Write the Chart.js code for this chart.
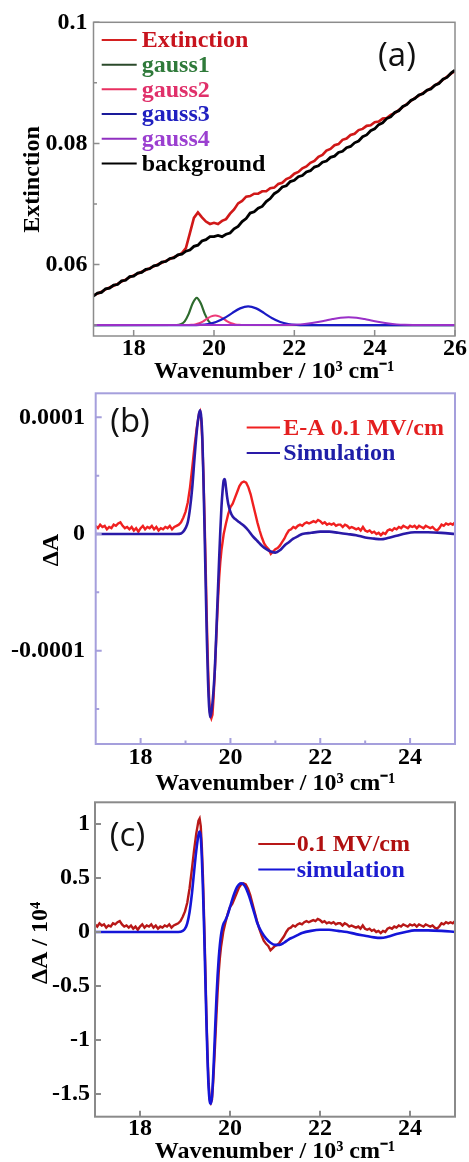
<!DOCTYPE html>
<html><head><meta charset="utf-8">
<script src="https://cdn.jsdelivr.net/npm/chart.js@4.4.0/dist/chart.umd.min.js"></script>
<style>
html,body{margin:0;padding:0;background:#fff;width:469px;height:1162px;overflow:hidden}
canvas{position:absolute;left:0}
</style></head>
<body>
<canvas id="ca" width="469" height="390" style="top:0px"></canvas>
<canvas id="cb" width="469" height="415" style="top:385px"></canvas>
<canvas id="cc" width="469" height="362" style="top:800px"></canvas>
<script>
// ---------- Panel (a) data ----------
const wnA = [17.0,17.1,17.2,17.3,17.4,17.5,17.6,17.7,17.8,17.9,
 18.0,18.1,18.2,18.3,18.4,18.5,18.6,18.7,18.8,18.9,
 19.0,19.1,19.2,19.3,19.4,19.5,19.6,19.7,19.8,19.9,
 20.0,20.1,20.2,20.3,20.4,20.5,20.6,20.7,20.8,20.9,
 21.0,21.1,21.2,21.3,21.4,21.5,21.6,21.7,21.8,21.9,
 22.0,22.1,22.2,22.3,22.4,22.5,22.6,22.7,22.8,22.9,
 23.0,23.1,23.2,23.3,23.4,23.5,23.6,23.7,23.8,23.9,
 24.0,24.1,24.2,24.3,24.4,24.5,24.6,24.7,24.8,24.9,
 25.0,25.1,25.2,25.3,25.4,25.5,25.6,25.7,25.8,25.9,26.0];
const background = [0.0548,0.0553,0.0554,0.0560,0.0561,0.0566,0.0567,0.0573,0.0574,0.0580,
 0.0581,0.0586,0.0587,0.0592,0.0593,0.0598,0.0599,0.0604,0.0605,0.0610,
 0.0611,0.0616,0.0617,0.0622,0.0624,0.0630,0.0632,0.0639,0.0641,0.0646,
 0.0646,0.0648,0.0646,0.0650,0.0652,0.0659,0.0663,0.0671,0.0676,0.0685,
 0.0687,0.0693,0.0696,0.0704,0.0709,0.0717,0.0721,0.0728,0.0730,0.0737,
 0.0739,0.0745,0.0747,0.0753,0.0755,0.0761,0.0763,0.0769,0.0771,0.0777,
 0.0779,0.0785,0.0787,0.0793,0.0795,0.0801,0.0804,0.0811,0.0814,0.0821,
 0.0824,0.0831,0.0834,0.0841,0.0844,0.0851,0.0854,0.0861,0.0864,0.0871,
 0.0874,0.0880,0.0882,0.0888,0.0890,0.0896,0.0899,0.0906,0.0909,0.0916,0.0921];
const extinction = [0.0549,0.0552,0.0555,0.0559,0.0562,0.0565,0.0568,0.0572,0.0575,0.0579,
 0.0582,0.0585,0.0588,0.0591,0.0594,0.0597,0.0600,0.0603,0.0606,0.0609,
 0.0612,0.0615,0.0619,0.0627,0.0652,0.0677,0.0686,0.0678,0.0671,0.0667,
 0.0669,0.0667,0.0672,0.0675,0.0684,0.0691,0.0701,0.0705,0.0712,0.0713,
 0.0717,0.0717,0.0721,0.0721,0.0726,0.0727,0.0733,0.0735,0.0741,0.0744,
 0.0750,0.0753,0.0759,0.0762,0.0768,0.0771,0.0778,0.0781,0.0788,0.0791,
 0.0797,0.0799,0.0806,0.0808,0.0814,0.0816,0.0822,0.0824,0.0829,0.0830,
 0.0835,0.0836,0.0841,0.0842,0.0847,0.0850,0.0855,0.0860,0.0865,0.0870,
 0.0875,0.0879,0.0883,0.0887,0.0891,0.0896,0.0900,0.0905,0.0910,0.0915,0.0920];
const gauss1X = [17.0,19.07,19.17,19.27,19.37,19.47,19.57,19.67,19.77,19.87,19.97,20.07,26.0];
const gauss1Y = [0.05,0.05002,0.05013,0.05061,0.05185,0.0536,0.0545,0.0536,0.05185,0.05061,0.05013,0.05002,0.05];
const gauss2X = [17.0,19.33,19.43,19.53,19.63,19.73,19.83,19.93,20.03,20.13,20.23,20.33,20.43,20.53,20.63,20.73,26.0];
const gauss2Y = [0.05,0.05001,0.05004,0.05012,0.05030,0.05062,0.05106,0.05144,0.0516,0.05144,0.05106,0.05062,0.05030,0.05012,0.05004,0.05001,0.05];
const gauss3X = [17.0,19.45,19.65,19.85,20.05,20.25,20.45,20.65,20.85,21.05,21.25,21.45,21.65,21.85,22.05,22.25,26.0];
const gauss3Y = [0.05,0.05001,0.05005,0.05018,0.05050,0.05112,0.05198,0.05276,0.0531,0.05276,0.05198,0.05112,0.05050,0.05018,0.05005,0.05001,0.05];
const gauss4X = [17.0,21.55,21.75,21.95,22.15,22.35,22.55,22.75,22.95,23.15,23.35,23.55,23.75,23.95,24.15,24.35,24.55,24.75,24.95,25.15,26.0];
const gauss4Y = [0.05,0.05001,0.05002,0.05005,0.05012,0.05025,0.05046,0.05072,0.05100,0.05122,0.0513,0.05122,0.05100,0.05072,0.05046,0.05025,0.05012,0.05005,0.05002,0.05001,0.05];
const xTicksA = [18,20,22,24,26];
const yTicksA = [0.06,0.08,0.1];
const yTickLabelsA = ['0.06','0.08','0.1'];

// ---------- Panels (b) and (c) data (signal in units of 1e-4) ----------
const wnEA = [17.00,17.05,17.10,17.15,17.20,17.25,17.30,17.35,17.40,17.45,
 17.50,17.55,17.60,17.65,17.70,17.75,17.80,17.85,17.90,17.95,
 18.00,18.05,18.10,18.15,18.20,18.25,18.30,18.35,18.40,18.45,
 18.50,18.55,18.60,18.65,18.70,18.75,18.80,18.85,18.90,18.95,
 19.00,19.05,19.10,19.15,19.20,19.25,19.30,19.325,19.35,19.375,
 19.40,19.425,19.45,19.475,19.50,19.525,19.55,19.575,19.60,19.625,
 19.65,19.675,19.70,19.725,19.75,19.775,19.80,19.85,19.90,19.95,
 20.00,20.05,20.10,20.15,20.20,20.25,20.30,20.35,20.40,20.45,
 20.50,20.55,20.60,20.65,20.70,20.75,20.80,20.85,20.90,20.95,
 21.00,21.05,21.10,21.15,21.20,21.25,21.30,21.35,21.40,21.45,
 21.50,21.55,21.60,21.65,21.70,21.75,21.80,21.85,21.90,21.95,
 22.00,22.05,22.10,22.15,22.20,22.25,22.30,22.35,22.40,22.45,
 22.50,22.55,22.60,22.65,22.70,22.75,22.80,22.85,22.90,22.95,
 23.00,23.05,23.10,23.15,23.20,23.25,23.30,23.35,23.40,23.45,
 23.50,23.55,23.60,23.65,23.70,23.75,23.80,23.85,23.90,23.95,
 24.00,24.05,24.10,24.15,24.20,24.25,24.30,24.35,24.40,24.45,
 24.50,24.55,24.60,24.65,24.70,24.75,24.80,24.85,24.90,24.95,25.00];
const eaSignal = [0.07,0.05,0.08,0.06,0.07,0.04,0.06,0.05,0.08,0.07,
 0.09,0.10,0.07,0.05,0.06,0.04,0.06,0.03,0.05,0.02,
 0.05,0.07,0.04,0.06,0.05,0.07,0.04,0.06,0.03,0.05,
 0.04,0.06,0.05,0.07,0.04,0.06,0.07,0.08,0.10,0.14,
 0.19,0.27,0.40,0.57,0.75,0.91,1.03,1.05,0.98,0.78,
 0.50,0.12,-0.30,-0.75,-1.12,-1.40,-1.55,-1.58,-1.55,-1.40,
 -1.20,-0.98,-0.76,-0.55,-0.37,-0.24,-0.14,0.00,0.09,0.17,
 0.23,0.26,0.31,0.36,0.41,0.44,0.45,0.44,0.40,0.34,
 0.26,0.18,0.10,0.03,-0.03,-0.08,-0.11,-0.13,-0.17,-0.15,
 -0.13,-0.12,-0.10,-0.07,-0.04,0.00,0.03,0.04,0.06,0.05,
 0.07,0.08,0.07,0.09,0.10,0.09,0.10,0.11,0.10,0.12,
 0.11,0.09,0.10,0.08,0.09,0.08,0.09,0.07,0.08,0.08,
 0.06,0.08,0.07,0.05,0.06,0.05,0.04,0.05,0.03,0.06,
 0.03,0.02,0.03,0.01,0.02,0.00,0.01,-0.01,0.01,0.00,
 0.03,0.04,0.03,0.05,0.04,0.06,0.05,0.07,0.06,0.05,
 0.07,0.06,0.07,0.05,0.07,0.06,0.05,0.07,0.06,0.05,
 0.06,0.04,0.03,0.05,0.08,0.07,0.09,0.08,0.09,0.08,0.10];
const wnSimB = [17.0,18.8,18.9,18.95,19.0,19.05,19.10,19.15,19.20,19.25,19.30,19.325,19.35,19.375,
 19.40,19.425,19.45,19.475,19.50,19.525,19.55,19.575,19.60,19.625,19.65,19.675,19.70,19.725,19.75,19.775,
 19.80,19.825,19.85,19.875,19.90,19.925,19.95,20.00,20.05,20.10,20.20,20.30,20.40,20.50,20.60,20.70,
 20.80,20.90,21.00,21.10,21.20,21.30,21.40,21.50,21.60,21.80,22.00,22.20,22.40,22.60,22.80,23.00,
 23.20,23.35,23.50,23.70,23.90,24.10,24.40,24.70,25.00];
const simB = [0,0,0.005,0.02,0.05,0.10,0.22,0.40,0.65,0.88,1.03,1.06,1.00,0.82,
 0.45,0.02,-0.45,-0.90,-1.25,-1.48,-1.57,-1.53,-1.45,-1.33,-1.18,-0.95,-0.70,-0.45,-0.20,0.03,
 0.23,0.37,0.46,0.47,0.40,0.32,0.26,0.19,0.15,0.13,0.10,0.07,0.03,-0.02,-0.06,-0.10,
 -0.13,-0.15,-0.16,-0.14,-0.10,-0.07,-0.04,-0.02,0.00,0.01,0.02,0.02,0.01,0.00,-0.01,-0.03,
 -0.04,-0.045,-0.035,-0.015,0.005,0.015,0.015,0.01,0.00];
const wnSimC = [17.0,18.85,18.95,19.0,19.05,19.10,19.15,19.20,19.25,19.30,19.325,19.35,19.375,19.40,
 19.425,19.45,19.475,19.50,19.525,19.55,19.575,19.60,19.625,19.65,19.675,19.70,19.725,19.75,19.775,19.80,
 19.825,19.85,19.90,19.95,20.00,20.05,20.10,20.15,20.20,20.25,20.30,20.35,20.40,20.45,20.50,20.55,
 20.60,20.65,20.70,20.80,20.90,21.00,21.10,21.20,21.30,21.40,21.50,21.60,21.80,22.00,22.20,22.40,
 22.60,22.80,23.00,23.20,23.35,23.50,23.70,23.90,24.10,24.40,24.70,25.00];
const simC = [0,0,0.01,0.03,0.08,0.18,0.34,0.55,0.75,0.90,0.93,0.88,0.68,0.38,
 0.02,-0.40,-0.82,-1.18,-1.44,-1.57,-1.59,-1.52,-1.34,-1.10,-0.84,-0.60,-0.40,-0.24,-0.12,-0.03,
 0.03,0.07,0.11,0.16,0.23,0.30,0.36,0.41,0.44,0.45,0.44,0.41,0.36,0.30,0.23,0.16,
 0.09,0.04,0.00,-0.06,-0.10,-0.12,-0.12,-0.10,-0.07,-0.05,-0.03,-0.01,0.01,0.02,0.02,0.01,
 0.00,-0.02,-0.035,-0.05,-0.055,-0.045,-0.02,0.00,0.015,0.015,0.01,0.00];
const xTicksBC = [18,20,22,24];
const yTicksB = [0.0001,0,-0.0001];
const yTickLabelsB = ['0.0001','0','-0.0001'];
const yTicksC = [1,0.5,0,-0.5,-1,-1.5];
const yTickLabelsC = ['1','0.5','0','-0.5','-1','-1.5'];

// ---------- helpers ----------
const SERIF = "'Liberation Serif','Times New Roman',serif";
const pts = (xs, ys, k) => xs.map((x, i) => ({x, y: ys[i] * (k || 1)}));

function makeDeco(cfg) {
  return {
    id: 'deco',
    afterDatasetsDraw(chart) {
      const {ctx, chartArea: a, scales: {x, y}} = chart;
      ctx.save();
      ctx.strokeStyle = cfg.frame; ctx.lineWidth = cfg.frameWidth;
      ctx.strokeRect(a.left, a.top, a.right - a.left, a.bottom - a.top);
      ctx.beginPath();
      cfg.xMajor.forEach(v => { const p = x.getPixelForValue(v); ctx.moveTo(p, a.bottom); ctx.lineTo(p, a.bottom - 6); });
      (cfg.xMinor || []).forEach(v => { const p = x.getPixelForValue(v); ctx.moveTo(p, a.bottom); ctx.lineTo(p, a.bottom - 3.5); });
      cfg.yMajor.forEach(v => { const p = y.getPixelForValue(v); ctx.moveTo(a.left, p); ctx.lineTo(a.left + 6, p); });
      (cfg.yMinor || []).forEach(v => { const p = y.getPixelForValue(v); ctx.moveTo(a.left, p); ctx.lineTo(a.left + 3.5, p); });
      ctx.stroke();
      // legend
      ctx.font = 'bold 24px ' + SERIF;
      ctx.textBaseline = 'middle'; ctx.textAlign = 'left';
      cfg.legend.forEach(it => {
        ctx.strokeStyle = it.line; ctx.lineWidth = 2;
        ctx.beginPath(); ctx.moveTo(cfg.lx1, it.y); ctx.lineTo(cfg.lx2, it.y); ctx.stroke();
        ctx.fillStyle = it.color; ctx.fillText(it.text, cfg.tx, it.y + 1);
      });
      // panel label
      ctx.font = "33px 'Open Sans',sans-serif"; ctx.fillStyle = '#111';
      ctx.textAlign = 'center';
      ctx.fillText(cfg.tag.text, cfg.tag.x, cfg.tag.y);
      // y title
      ctx.font = 'bold 24px ' + SERIF; ctx.fillStyle = '#000';
      ctx.translate(cfg.yt.x, cfg.yt.y); ctx.rotate(-Math.PI / 2);
      ctx.fillText(cfg.yt.text, 0, 0);
      ctx.restore();
    }
  };
}

function axes(o) {
  return {
    x: {
      type: 'linear', min: o.xmin, max: o.xmax,
      grid: {display: false, drawTicks: false}, border: {display: false},
      ticks: {color: '#000', font: {family: SERIF, size: 24, weight: 'bold', lineHeight: 1}, padding: o.xpad, maxRotation: 0,
        callback: v => String(v)},
      afterBuildTicks: s => { s.ticks = o.xticks.map(v => ({value: v})); },
      afterFit: s => { s.height = o.xh; s.paddingLeft = 0; s.paddingRight = 0; },
      title: {display: true, text: 'Wavenumber / 10³ cm⁻¹', color: '#000',
        font: {family: SERIF, size: 24, weight: 'bold', lineHeight: 0.8}, padding: {top: 0, bottom: o.tpad}}
    },
    y: {
      type: 'linear', min: o.ymin, max: o.ymax,
      grid: {display: false, drawTicks: false}, border: {display: false},
      ticks: {color: '#000', font: {family: SERIF, size: 24, weight: 'bold', lineHeight: 1}, padding: o.ypad,
        callback: (v, i) => o.ylabels[i]},
      afterBuildTicks: s => { s.ticks = o.yticks.map(v => ({value: v})); },
      afterFit: s => { s.width = o.yw; s.paddingTop = 0; s.paddingBottom = 0; }
    }
  };
}

function line(data, color, w, smooth) {
  return {data, borderColor: color, borderWidth: w, pointRadius: 0, fill: false,
    tension: 0, cubicInterpolationMode: smooth ? 'monotone' : 'default'};
}

const common = {responsive: false, animation: false, devicePixelRatio: 1,
  plugins: {legend: {display: false}, tooltip: {enabled: false}}};

// ---------- Chart (a) ----------
new Chart(document.getElementById('ca'), {
  type: 'line',
  data: {datasets: [
    line(pts(gauss4X, gauss4Y), '#9a30c8', 2, true),
    line(pts(gauss3X, gauss3Y), '#1a1ac4', 2.2, true),
    line(pts(gauss2X, gauss2Y), '#ee3a78', 2, true),
    line(pts(gauss1X, gauss1Y), '#2e6b2e', 2.2, true),
    line(pts(wnA, background), '#000000', 2.8, false),
    line(pts(wnA, extinction), '#d01818', 2.6, false)
  ]},
  options: Object.assign({}, common, {
    layout: {padding: {top: 22.3, right: 14, bottom: 0, left: 0}},
    scales: axes({xmin: 17, xmax: 26, xticks: xTicksA, xpad: 1, xh: 54, tpad: 8.4,
      ymin: 0.0482, ymax: 0.1, yticks: yTicksA, ylabels: yTickLabelsA, ypad: 6, yw: 93.5})
  }),
  plugins: [makeDeco({
    frame: '#8c8c8c', frameWidth: 1.5,
    xMajor: xTicksA, xMinor: [], yMajor: yTicksA, yMinor: [0.05, 0.07, 0.09],
    lx1: 101.7, lx2: 136.7, tx: 141.7,
    legend: [
      {text: 'Extinction', line: '#d42020', color: '#c8141e', y: 40},
      {text: 'gauss1', line: '#2b4a2b', color: '#2f7a3a', y: 64.7},
      {text: 'gauss2', line: '#e83060', color: '#e0306a', y: 89.3},
      {text: 'gauss3', line: '#1a1a9a', color: '#2020c0', y: 114},
      {text: 'gauss4', line: '#9030c0', color: '#9b3fd0', y: 138.7},
      {text: 'background', line: '#000000', color: '#000000', y: 163.4}
    ],
    tag: {text: '(a)', x: 397, y: 57},
    yt: {text: 'Extinction', x: 33, y: 179.5}
  })]
});

// ---------- Chart (b) ----------
new Chart(document.getElementById('cb'), {
  type: 'line',
  data: {datasets: [
    line(pts(wnSimB, simB, 1e-4), '#2a1aa8', 2.6, true),
    line(pts(wnEA, eaSignal, 1e-4), '#f02020', 2.4, false)
  ]},
  options: Object.assign({}, common, {
    layout: {padding: {top: 8.3, right: 14, bottom: 0, left: 0}},
    scales: axes({xmin: 17, xmax: 25, xticks: xTicksBC, xpad: 2, xh: 56, tpad: 6.4,
      ymin: -0.00018, ymax: 0.0001206, yticks: yTicksB, ylabels: yTickLabelsB, ypad: 10.7, yw: 95.7})
  }),
  plugins: [makeDeco({
    frame: '#a59fdc', frameWidth: 2,
    xMajor: xTicksBC, xMinor: [19, 21, 23], yMajor: yTicksB, yMinor: [0.00005, -0.00005, -0.00015],
    lx1: 246.7, lx2: 280, tx: 283.3,
    legend: [
      {text: 'E-A 0.1 MV/cm', line: '#f02020', color: '#e41f1f', y: 42.5},
      {text: 'Simulation', line: '#2a1aa8', color: '#1e1ea8', y: 68}
    ],
    tag: {text: '(b)', x: 130, y: 38},
    yt: {text: 'ΔA', x: 52, y: 165}
  })]
});

// ---------- Chart (c) ----------
new Chart(document.getElementById('cc'), {
  type: 'line',
  data: {datasets: [
    line(pts(wnSimC, simC), '#1515d8', 2.6, true),
    line(pts(wnEA, eaSignal), '#b81818', 2.4, false)
  ]},
  options: Object.assign({}, common, {
    layout: {padding: {top: 2.3, right: 14, bottom: 0, left: 0}},
    scales: axes({xmin: 17, xmax: 25, xticks: xTicksBC, xpad: 0.3, xh: 45.3, tpad: 0.4,
      ymin: -1.71, ymax: 1.2, yticks: yTicksC, ylabels: yTickLabelsC, ypad: 5, yw: 95})
  }),
  plugins: [makeDeco({
    frame: '#8a8a8a', frameWidth: 2,
    xMajor: xTicksBC, xMinor: [], yMajor: yTicksC, yMinor: [],
    lx1: 258.3, lx2: 295, tx: 296.7,
    legend: [
      {text: '0.1 MV/cm', line: '#b81818', color: '#b01010', y: 44},
      {text: 'simulation', line: '#1515d8', color: '#1c1cd0', y: 69.5}
    ],
    tag: {text: '(c)', x: 127.5, y: 36.7},
    yt: {text: 'ΔA / 10⁴', x: 41, y: 143}
  })]
});
</script>
</body></html>
